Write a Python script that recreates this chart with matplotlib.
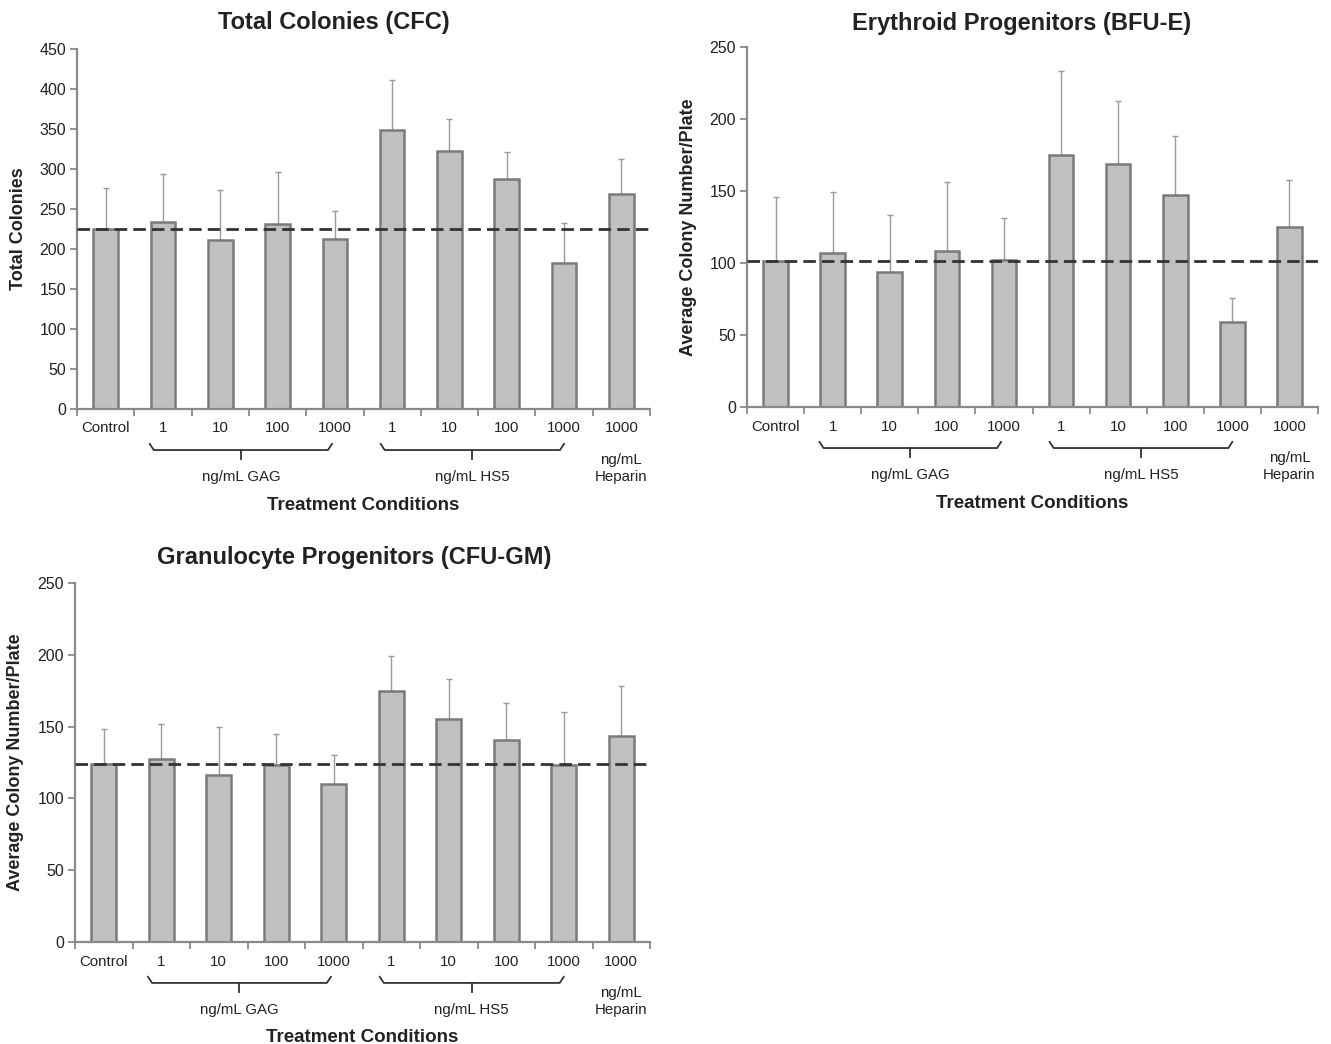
import matplotlib
matplotlib.use("Agg")
import matplotlib.pyplot as plt
import matplotlib.transforms as mtransforms
import numpy as np

plt.rcParams['font.family'] = ['Liberation Sans', 'DejaVu Sans']

# ---------------- data ----------------
tick_labels = ["Control", "1", "10", "100", "1000", "1", "10", "100", "1000", "1000"]
group_labels = ["ng/mL GAG", "ng/mL HS5", "ng/mL\nHeparin"]

titles = ["Total Colonies (CFC)", "Erythroid Progenitors (BFU-E)",
          "Granulocyte Progenitors (CFU-GM)"]
ylabels = ["Total Colonies", "Average Colony Number/Plate", "Average Colony Number/Plate"]

cfc_mean = [225, 234, 211, 231, 213, 349, 323, 287, 182, 269]
cfc_sd = [51, 60, 63, 65, 35, 62, 40, 34, 50, 44]

bfue_mean = [101.5, 107, 94, 108, 102, 175, 168.5, 147.5, 59, 125]
bfue_sd = [44, 42, 39, 48, 29, 58, 44, 41, 17, 32.5]

cfugm_mean = [124, 127.5, 116.5, 123.5, 110, 174.5, 155, 140.5, 123.5, 143.5]
cfugm_sd = [24, 24.5, 33, 21, 20, 24.5, 28, 26, 37, 35]

ymaxs = [450, 250, 250]
ysteps = [50, 50, 50]

# ---------------- figure ----------------
fig = plt.figure(figsize=(13.31, 10.44), dpi=100)
W, H = 1331, 1044


def ax_rect(l, r, t, b):
    return [l / W, 1 - b / H, (r - l) / W, (b - t) / H]


axes = [
    fig.add_axes(ax_rect(77, 650, 49, 409)),
    fig.add_axes(ax_rect(747, 1318, 47, 407)),
    fig.add_axes(ax_rect(75, 650, 583, 942)),
]
title_x = [0.448, 0.48, 0.485]
title_y = [1.075, 1.064, 1.072]

datasets = [(cfc_mean, cfc_sd), (bfue_mean, bfue_sd), (cfugm_mean, cfugm_sd)]

spine_col = "#8a8a8a"
text_col = "#222222"

for k, ax in enumerate(axes):
    mean, sd = datasets[k]
    n = len(mean)
    x = np.arange(n)
    ax.bar(x, mean, width=0.43, color="#c0c0c0", edgecolor="#7a7a7a",
           linewidth=1.8, zorder=2)
    ax.errorbar(x, mean, yerr=[np.zeros(n), sd], fmt="none", ecolor="#9a9a9a",
                elinewidth=1.0, capsize=2.5, capthick=1.0, zorder=1)
    ax.axhline(mean[0], color="#333333", lw=2, dashes=(4.5, 2.2), zorder=3)

    ax.set_xlim(-0.5, n - 0.5)
    ax.set_ylim(0, ymaxs[k])
    ax.set_yticks(np.arange(0, ymaxs[k] + 1, ysteps[k]))
    ax.set_xticks(x)
    ax.set_xticklabels(tick_labels, fontsize=10.8, color=text_col)
    ax.set_xticks(np.arange(-0.5, n, 1.0), minor=True)
    ax.tick_params(axis="x", which="major", length=0, pad=9)
    ax.tick_params(axis="x", which="minor", length=5, width=1.3, color=spine_col,
                   direction="out")
    ax.tick_params(axis="y", length=5, width=1.3, color=spine_col, direction="out",
                   labelsize=11.5, labelcolor=text_col, pad=3)

    for s in ["top", "right"]:
        ax.spines[s].set_visible(False)
    for s in ["left", "bottom"]:
        ax.spines[s].set_color(spine_col)
        ax.spines[s].set_linewidth(1.6)

    ax.text(title_x[k], title_y[k], titles[k], transform=ax.transAxes,
            ha="center", va="center", fontsize=17, fontweight="bold", color=text_col)
    ax.set_ylabel(ylabels[k], fontsize=13, fontweight="bold", color=text_col)
    ax.yaxis.set_label_coords(-0.088, 0.5)
    ax.text(0.5, -0.267, "Treatment Conditions", transform=ax.transAxes,
            ha="center", va="center", fontsize=13.5, fontweight="bold", color=text_col)

    trans = mtransforms.blended_transform_factory(ax.transData, ax.transAxes)
    y_line, y_hook, y_tick = -0.114, -0.097, -0.140
    d = 0.07
    for (x0, x1), lab in zip([(0.77, 3.95), (4.8, 8.0)], group_labels[:2]):
        ax.plot([x0, x0 + d, x1 - d, x1], [y_hook, y_line, y_line, y_hook],
                transform=trans, clip_on=False, color="#333333", lw=1.3)
        xm = (x0 + x1) / 2
        ax.plot([xm, xm], [y_line, y_tick], transform=trans, clip_on=False,
                color="#333333", lw=1.3)
        ax.text(xm, -0.189, lab, transform=trans, ha="center", va="center",
                fontsize=10.8, color=text_col)
    ax.text(n - 1, -0.166, group_labels[2], transform=trans, ha="center",
            va="center", fontsize=10.8, color=text_col, linespacing=1.3)

fig.savefig("out.png", dpi=100)
